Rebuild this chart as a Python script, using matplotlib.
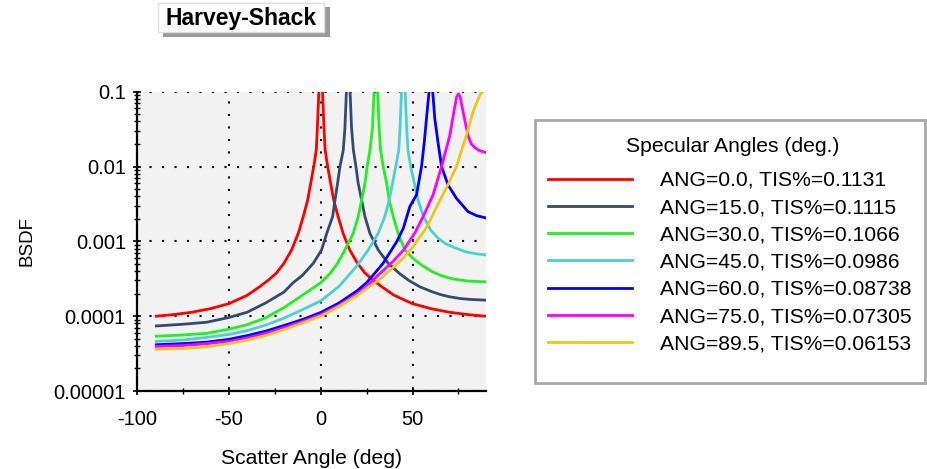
import numpy as np
import matplotlib
matplotlib.use('Agg')
import matplotlib.pyplot as plt
from matplotlib.patches import Rectangle
from matplotlib.ticker import LogLocator, NullFormatter

plt.rcParams['font.family'] = ['Liberation Sans', 'DejaVu Sans']
plt.rcParams['axes.unicode_minus'] = False

# Harvey-Shack BSDF vs scatter angle, one curve per specular angle
ang00_deg = [-89.5, -80, -70, -60, -50, -40, -33, -28, -24, -20, -15.8, -12.2, -9.5, -7.1, -5.4, -3.8, -2.4, -1.8, -1.0, 0,
             1.0, 1.8, 2.4, 3.8, 5.4, 7.1, 9.5, 12.2, 15.8, 20, 24, 28, 33, 40, 50, 60, 70, 80, 89.5]
ang00_bsdf = [1.0e-4, 1.05e-4, 1.13e-4, 1.26e-4, 1.47e-4, 1.9e-4, 2.5e-4, 3.1e-4, 3.8e-4, 5.1e-4, 7.7e-4, 1.28e-3,
              2.14e-3, 3.56e-3, 6.0e-3, 1.0e-2, 1.66e-2, 3.3e-2, 1.0e-1, 8.0e-1,
              1.0e-1, 3.3e-2, 1.66e-2, 1.0e-2, 6.0e-3, 3.56e-3, 2.14e-3, 1.28e-3, 7.7e-4, 5.1e-4, 3.8e-4, 3.1e-4,
              2.5e-4, 1.9e-4, 1.47e-4, 1.26e-4, 1.13e-4, 1.05e-4, 1.0e-4]

ang15_deg = [-89.5, -75, -62, -50, -40, -30, -20, -15, -10, -4, 0.5, 3.3, 6.5, 7.8, 9.2, 10.5, 12.3, 13.2, 14, 15,
             16, 16.8, 17.8, 19.2, 20.4, 22.3, 24.1, 26.8, 31.3, 36.7, 43, 48, 54, 60, 65, 70, 76, 82, 89.5]
ang15_bsdf = [7.4e-5, 7.8e-5, 8.3e-5, 9.6e-5, 1.13e-4, 1.5e-4, 2.1e-4, 2.8e-4, 3.5e-4, 5.1e-4, 7.7e-4, 1.28e-3,
              2.14e-3, 3.56e-3, 6.0e-3, 1.0e-2, 1.66e-2, 3.3e-2, 1.0e-1, 8.0e-1,
              1.0e-1, 3.3e-2, 1.66e-2, 1.0e-2, 6.0e-3, 3.56e-3, 2.14e-3, 1.28e-3, 7.7e-4, 5.1e-4, 3.7e-4,
              3.0e-4, 2.47e-4, 2.15e-4, 1.95e-4, 1.82e-4, 1.72e-4, 1.67e-4, 1.64e-4]

ang30_deg = [-89.5, -75, -62, -50, -40, -30, -20, -10, 0, 5, 9, 13.2, 17.7, 20.4, 22.3, 24.1, 25.3, 26.8, 28.2, 29, 30,
             31, 31.8, 32.6, 34, 35.9, 37.3, 39.5, 42.2, 45.8, 50, 55, 61, 66, 72, 80, 89.5]
ang30_bsdf = [5.4e-5, 5.6e-5, 5.9e-5, 6.7e-5, 7.7e-5, 9.5e-5, 1.3e-4, 1.9e-4, 2.8e-4, 3.7e-4, 5.0e-4, 7.7e-4,
              1.28e-3, 2.14e-3, 3.56e-3, 6.0e-3, 1.0e-2, 1.66e-2, 3.3e-2, 1.0e-1, 8.0e-1,
              1.0e-1, 3.3e-2, 1.66e-2, 1.0e-2, 6.0e-3, 3.56e-3, 2.14e-3, 1.28e-3, 7.7e-4, 6.0e-4, 4.8e-4,
              3.9e-4, 3.45e-4, 3.15e-4, 2.95e-4, 2.88e-4]

ang45_deg = [-89.5, -75, -62, -50, -40, -30, -20, -10, 0, 10, 20, 25.9, 31.3, 34.9, 37.3, 39.1, 40.9, 42.5, 43.2,
             44, 45, 46, 46.8, 47.5, 49, 51, 53, 56, 60, 64, 68, 73, 79.3, 85, 89.5]
ang45_bsdf = [4.6e-5, 4.8e-5, 5.2e-5, 5.7e-5, 6.4e-5, 7.6e-5, 9.4e-5, 1.22e-4, 1.6e-4, 2.5e-4, 4.8e-4, 7.7e-4,
              1.28e-3, 2.14e-3, 3.56e-3, 6.0e-3, 1.0e-2, 1.66e-2, 3.3e-2, 1.0e-1, 8.0e-1,
              1.0e-1, 3.3e-2, 1.66e-2, 1.0e-2, 6.0e-3, 3.56e-3, 2.14e-3, 1.4e-3, 1.1e-3, 9.3e-4, 8.2e-4,
              7.2e-4, 6.8e-4, 6.6e-4]

ang60_deg = [-89.5, -75, -62, -50, -40, -30, -20, -10, 0, 10, 20, 25, 30, 34, 38, 41.5, 45, 48.5, 52.2, 54.9, 56.3,
             57.6, 59, 60, 61, 62.1, 64, 65.8, 69.3, 73.9, 80.2, 85, 89.5]
ang60_bsdf = [4.15e-5, 4.3e-5, 4.5e-5, 4.9e-5, 5.5e-5, 6.3e-5, 7.5e-5, 9.0e-5, 1.12e-4, 1.5e-4, 2.2e-4, 2.8e-4,
              3.9e-4, 5.1e-4, 7.3e-4, 1.0e-3, 1.5e-3, 2.9e-3, 4.2e-3, 1.0e-2, 2.0e-2, 4.4e-2, 1.0e-1, 8.0e-1,
              1.0e-1, 4.4e-2, 2.0e-2, 1.0e-2, 5.7e-3, 3.76e-3, 2.5e-3, 2.2e-3, 2.07e-3]

ang75_deg = [-89.5, -75, -62, -50, -40, -30, -20, -10, 0, 10, 20, 25, 32.2, 40, 45, 51.3, 56, 61.2, 65.8, 68, 70.3,
             72.5, 74, 75, 76, 77.5, 80.2, 82, 83.9, 86, 89.5]
ang75_bsdf = [3.95e-5, 4.05e-5, 4.3e-5, 4.6e-5, 5.1e-5, 5.9e-5, 7.0e-5, 8.5e-5, 1.05e-4, 1.4e-4, 2.0e-4, 2.5e-4,
              3.7e-4, 5.6e-4, 7.6e-4, 1.3e-3, 2.2e-3, 4.2e-3, 1.0e-2, 1.6e-2, 2.6e-2, 5.4e-2, 8.5e-2, 9.3e-2,
              8.5e-2, 5.4e-2, 2.6e-2, 2.0e-2, 1.8e-2, 1.65e-2, 1.55e-2]

ang895_deg = [-89.5, -75, -62, -50, -40, -30, -20, -10, 0, 10, 20, 25, 32.2, 40, 45, 50, 54, 57, 60, 64, 69.3, 73.9,
              79.3, 83, 86.6, 88, 89.5]
ang895_bsdf = [3.6e-5, 3.7e-5, 3.9e-5, 4.3e-5, 4.8e-5, 5.5e-5, 6.6e-5, 8.1e-5, 1.0e-4, 1.35e-4, 1.9e-4, 2.35e-4,
               3.1e-4, 4.6e-4, 6.0e-4, 8.3e-4, 1.15e-3, 1.45e-3, 2.0e-3, 3.2e-3, 5.7e-3, 1.0e-2, 2.6e-2, 5.4e-2,
               9.0e-2, 1.0e-1, 1.05e-1]

legend_title = 'Specular Angles (deg.)'
legend_labels = ['ANG=0.0, TIS%=0.1131', 'ANG=15.0, TIS%=0.1115', 'ANG=30.0, TIS%=0.1066',
                 'ANG=45.0, TIS%=0.0986', 'ANG=60.0, TIS%=0.08738', 'ANG=75.0, TIS%=0.07305',
                 'ANG=89.5, TIS%=0.06153']
line_colors = ['#ff0000', '#344b6e', '#22f022', '#4cd0d0', '#0000ff', '#ff00ff', '#f0c418']

x_ticks = [-100, -50, 0, 50]
x_minor = [-75, -25, 25, 75]
y_ticks = [1e-5, 1e-4, 1e-3, 1e-2, 1e-1]
y_labels = ['0.00001', '0.0001', '0.001', '0.01', '0.1']

curves = [(ang00_deg, ang00_bsdf), (ang15_deg, ang15_bsdf), (ang30_deg, ang30_bsdf), (ang45_deg, ang45_bsdf),
          (ang60_deg, ang60_bsdf), (ang75_deg, ang75_bsdf), (ang895_deg, ang895_bsdf)]

W, H = 928, 469


def fx(px):
    return px / W


def fy(py):
    return 1 - py / H


fig = plt.figure(figsize=(W / 100, H / 100), dpi=100)
ax = fig.add_axes([fx(137), fy(391), (486 - 137) / W, (391 - 91.7) / H])
ax.set_facecolor('#f2f2f2')

handles = []
for (xs, ys), col, lab in zip(curves, line_colors, legend_labels):
    ln, = ax.plot(xs, ys, color=col, lw=2.0, label=lab)
    handles.append(ln)

ax.set_yscale('log')
ax.set_xlim(-100, 90)
ax.set_ylim(1e-5, 0.1)
ax.set_xticks(x_ticks)
ax.set_xticks(x_minor, minor=True)
ax.set_yticks(y_ticks)
ax.set_yticklabels(y_labels)
ax.yaxis.set_minor_locator(LogLocator(base=10, subs=np.arange(2, 10)))
ax.yaxis.set_minor_formatter(NullFormatter())

ax.tick_params(which='major', direction='inout', length=6, width=1.2, labelsize=14.5, colors='black')
ax.tick_params(which='minor', direction='inout', length=5, width=1.0)
ax.tick_params(axis='x', which='major', pad=11)
ax.tick_params(axis='y', which='major', pad=5)

for side in ('top', 'right'):
    ax.spines[side].set_visible(False)
for side in ('left', 'bottom'):
    ax.spines[side].set_linewidth(1.6)

ax.grid(True, which='major', linestyle=(0, (1, 5)), color='black', lw=1.5)
ax.set_axisbelow(True)

ax.set_xlabel('Scatter Angle (deg)', fontsize=15.2)
ax.xaxis.set_label_coords(0.5, -0.193)
ax.set_ylabel('BSDF', fontsize=13.5)
ax.yaxis.set_label_coords(-0.29, 0.5)

# title badge with a drop shadow
fig.patches.append(Rectangle((fx(163), fy(37)), 167 / W, 30 / H, transform=fig.transFigure,
                             facecolor='#9a9a9a', edgecolor='none', zorder=1))
fig.patches.append(Rectangle((fx(158), fy(32)), 166 / W, 29 / H, transform=fig.transFigure,
                             facecolor='white', edgecolor='#e0e0e0', lw=1, zorder=2))
fig.text(fx(241), fy(19), 'Harvey-Shack', ha='center', va='center', fontsize=16.5,
         fontweight='bold', zorder=3)

# legend panel
fig.patches.append(Rectangle((fx(535), fy(383)), 390 / W, 263 / H, transform=fig.transFigure,
                             facecolor='white', edgecolor='#a8a8a8', lw=2, zorder=1))
fig.text(fx(733), fy(147), legend_title, ha='center', va='center', fontsize=15.2, zorder=3)
leg = fig.legend(handles=handles, labels=legend_labels,
                 loc='upper left', bbox_to_anchor=(fx(548), fy(171)), frameon=False,
                 fontsize=15.2, handlelength=4.0, handletextpad=1.3,
                 labelspacing=0.39, borderpad=0, borderaxespad=0)
leg.set_zorder(3)

fig.savefig('out.png', dpi=100)
